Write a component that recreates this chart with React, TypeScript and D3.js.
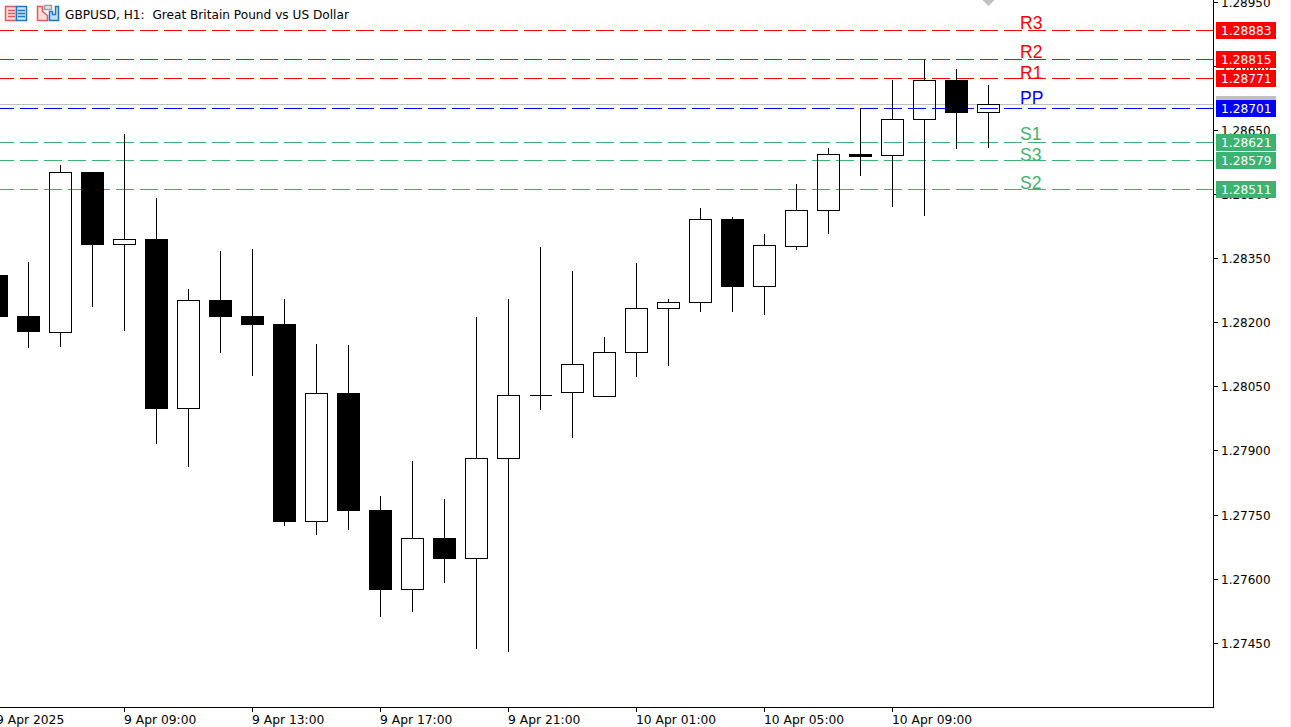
import React, { useEffect, useRef } from 'react';
import * as d3 from 'd3';

const WIDTH = 1291;
const HEIGHT = 727;

// GBPUSD H1 candles, oldest first (9 Apr 05:00 -> 10 Apr 12:00)
const opens = [1.28311, 1.28215, 1.28177, 1.28552, 1.28383, 1.28395, 1.27999, 1.28252, 1.28215, 1.28196, 1.27734, 1.28035, 1.27761, 1.27575, 1.27696, 1.27649, 1.27883, 1.2803, 1.28037, 1.28028, 1.28131, 1.28234, 1.28248, 1.28442, 1.28285, 1.28378, 1.28463, 1.28594, 1.28591, 1.28676, 1.28767, 1.28692];
const highs = [1.2834, 1.28342, 1.28569, 1.28552, 1.28641, 1.28492, 1.28279, 1.28368, 1.28372, 1.28255, 1.2815, 1.28148, 1.27795, 1.27876, 1.27788, 1.28213, 1.28255, 1.28377, 1.28321, 1.28166, 1.2834, 1.28255, 1.28468, 1.28447, 1.28407, 1.28524, 1.28609, 1.28701, 1.28768, 1.28814, 1.28793, 1.28756];
const lows = [1.2819, 1.28141, 1.28144, 1.28237, 1.28181, 1.27916, 1.27863, 1.2813, 1.28076, 1.27725, 1.27704, 1.27715, 1.27512, 1.27524, 1.27592, 1.27437, 1.2743, 1.27996, 1.27931, 1.28028, 1.28074, 1.28099, 1.28225, 1.28225, 1.28219, 1.2837, 1.28407, 1.28544, 1.28471, 1.2845, 1.28605, 1.28609];
const closes = [1.28213, 1.28177, 1.28552, 1.28382, 1.28395, 1.27998, 1.28252, 1.28214, 1.28195, 1.27734, 1.28035, 1.27759, 1.27575, 1.27696, 1.27648, 1.27883, 1.2803, 1.2803, 1.28103, 1.28131, 1.28234, 1.28248, 1.28442, 1.28284, 1.28381, 1.28463, 1.28594, 1.28588, 1.28676, 1.28767, 1.28691, 1.28711];

const priceTicks = [1.2745, 1.276, 1.2775, 1.279, 1.2805, 1.282, 1.2835, 1.285, 1.2865, 1.288, 1.2895];
const timeTickIdx = [0, 4, 8, 12, 16, 20, 24, 28];
const timeTickLabels = ['9 Apr 2025', '9 Apr 09:00', '9 Apr 13:00', '9 Apr 17:00', '9 Apr 21:00', '10 Apr 01:00', '10 Apr 05:00', '10 Apr 09:00'];

// pivot levels
const levelNames = ['R3', 'R2', 'R1', 'PP', 'S1', 'S3', 'S2'];
const levelPrices = [1.28883, 1.28815, 1.28771, 1.28701, 1.28621, 1.28579, 1.28511];
const levelLabelPrices = [1.28888, 1.2882, 1.28771, 1.28711, 1.28628, 1.28579, 1.28513];
const levelColors = ['#ff0000', '#ff0000', '#ff0000', '#0000ff', '#3cb371', '#3cb371', '#3cb371'];

const bidPrice = 1.28711;
const title = 'GBPUSD, H1:  Great Britain Pound vs US Dollar';
const FONT = '"DejaVu Sans", sans-serif';

const App: React.FC = () => {
  const chartRef = useRef<SVGSVGElement>(null);

  useEffect(() => {
    if (!chartRef.current) return;

    const plotRight = 1213;
    const plotBottom = 707;

    d3.select(chartRef.current).selectAll('*').remove();

    const svg = d3.select(chartRef.current)
      .attr('width', WIDTH)
      .attr('height', HEIGHT)
      .style('position', 'absolute')
      .style('left', 0)
      .style('top', 0)
      .style('background', '#ffffff')
      .attr('shape-rendering', 'crispEdges');

    const xScale = d3.scaleLinear().domain([0, 31]).range([-4, 988]);
    const yScale = d3.scaleLinear().domain([1.2745, 1.2895]).range([643.3, 2]);
    // snap to the pixel grid like the terminal does
    const px = (v: number) => Math.floor(v) + 0.5;

    const isBear = (i: number) => closes[i] < opens[i];
    const bodyTop = (i: number) => px(yScale(Math.max(opens[i], closes[i])));
    const bodyBottom = (i: number) => {
      const y = yScale(Math.min(opens[i], closes[i]));
      return Math.max(bodyTop(i), isBear(i) ? Math.round(y) - 0.5 : px(y));
    };

    svg.append('rect')
      .attr('x', WIDTH - 1).attr('y', 0).attr('width', 1).attr('height', HEIGHT)
      .attr('fill', '#f0f0f0');

    const plot = svg.append('g');

    // Bid line
    plot.append('line')
      .attr('x1', 0).attr('x2', plotRight)
      .attr('y1', px(yScale(bidPrice))).attr('y2', px(yScale(bidPrice)))
      .attr('stroke', '#c0c0c0');

    // Level lines
    plot.selectAll('.level')
      .data(levelPrices)
      .enter().append('line')
      .attr('class', 'level')
      .attr('x1', 0).attr('x2', plotRight)
      .attr('y1', d => px(yScale(d))).attr('y2', d => px(yScale(d)))
      .attr('stroke', (d, i) => levelColors[i])
      .attr('stroke-dasharray', '18 6')
      .attr('stroke-dashoffset', 4);

    // Wicks stop at the body so the level lines still show through bull candles
    const candles = d3.range(opens.length);
    plot.selectAll('.wick-up')
      .data(candles)
      .enter().append('line')
      .attr('class', 'wick-up')
      .attr('x1', i => xScale(i) + 0.5).attr('x2', i => xScale(i) + 0.5)
      .attr('y1', i => Math.round(yScale(highs[i])))
      .attr('y2', i => bodyTop(i))
      .attr('stroke', '#000000');
    plot.selectAll('.wick-down')
      .data(candles)
      .enter().append('line')
      .attr('class', 'wick-down')
      .attr('x1', i => xScale(i) + 0.5).attr('x2', i => xScale(i) + 0.5)
      .attr('y1', i => bodyBottom(i))
      .attr('y2', i => Math.round(yScale(lows[i])))
      .attr('stroke', '#000000');

    // Bodies: bull candles are see-through, bear candles solid
    // drawn as paths so a flat doji still shows up
    plot.selectAll('.body')
      .data(candles)
      .enter().append('path')
      .attr('class', 'body')
      .attr('d', i => {
        const left = xScale(i) - 10.5;
        return `M${left} ${bodyTop(i)}H${left + 22}V${bodyBottom(i)}H${left}Z`;
      })
      .attr('fill', i => (isBear(i) ? '#000000' : 'none'))
      .attr('stroke', '#000000');

    // Level names
    svg.selectAll('.level-name')
      .data(levelNames)
      .enter().append('text')
      .attr('x', 1020)
      .attr('y', (d, i) => yScale(levelLabelPrices[i]))
      .attr('fill', (d, i) => levelColors[i])
      .attr('font-family', '"Liberation Sans", Arial, sans-serif')
      .attr('font-size', 17.5)
      .text(d => d);

    // Axis frame
    svg.append('line')
      .attr('x1', plotRight + 0.5).attr('x2', plotRight + 0.5)
      .attr('y1', 0).attr('y2', plotBottom + 1)
      .attr('stroke', '#000000');
    svg.append('line')
      .attr('x1', 0).attr('x2', plotRight + 1)
      .attr('y1', plotBottom + 0.5).attr('y2', plotBottom + 0.5)
      .attr('stroke', '#000000');

    // Price axis
    svg.selectAll('.y-tick')
      .data(priceTicks)
      .enter().append('line')
      .attr('class', 'y-tick')
      .attr('x1', plotRight + 1).attr('x2', plotRight + 5)
      .attr('y1', d => px(yScale(d))).attr('y2', d => px(yScale(d)))
      .attr('stroke', '#000000');
    svg.selectAll('.y-label')
      .data(priceTicks)
      .enter().append('text')
      .attr('x', 1221)
      .attr('y', d => yScale(d))
      .attr('dy', '0.38em')
      .attr('font-family', FONT)
      .attr('font-size', 12)
      .attr('fill', '#000000')
      .text(d => d.toFixed(5));

    // Time axis
    svg.selectAll('.x-tick')
      .data(timeTickIdx)
      .enter().append('line')
      .attr('class', 'x-tick')
      .attr('x1', d => xScale(d) + 0.5).attr('x2', d => xScale(d) + 0.5)
      .attr('y1', plotBottom + 1).attr('y2', plotBottom + 5)
      .attr('stroke', '#000000');
    svg.selectAll('.x-label')
      .data(timeTickIdx)
      .enter().append('text')
      .attr('x', d => xScale(d))
      .attr('y', 724)
      .attr('font-family', FONT)
      .attr('font-size', 12.3)
      .attr('fill', '#000000')
      .text((d, i) => timeTickLabels[i]);

    // Price tags
    const tagPrices = [bidPrice, ...levelPrices];
    const tagColors = ['#c0c0c0', ...levelColors];
    svg.selectAll('.tag')
      .data(tagPrices)
      .enter().append('rect')
      .attr('class', 'tag')
      .attr('x', 1216).attr('width', 60).attr('height', 17)
      .attr('y', d => Math.floor(yScale(d)) - 8)
      .attr('fill', (d, i) => tagColors[i]);
    svg.selectAll('.tag-text')
      .data(levelPrices)
      .enter().append('text')
      .attr('class', 'tag-text')
      .attr('x', 1221)
      .attr('y', d => Math.floor(yScale(d)) + 0.5)
      .attr('dy', '0.38em')
      .attr('font-family', FONT)
      .attr('font-size', 12.2)
      .attr('fill', '#ffffff')
      .text(d => d.toFixed(5));

    // Grey marker above the last candle
    const mx = xScale(opens.length - 1) + 0.5;
    svg.append('path')
      .attr('d', d3.line()([[mx - 6, 0], [mx + 6, 0], [mx, 6]]) + 'Z')
      .attr('fill', '#c0c0c0')
      .attr('shape-rendering', 'auto');

    // Title icons
    const icons = svg.append('g').attr('shape-rendering', 'auto').attr('stroke-width', 1.5);
    icons.append('rect').attr('x', 5.5).attr('y', 6.5).attr('width', 11).attr('height', 14).attr('fill', '#fde0dc').attr('stroke', '#e05a5a');
    icons.append('rect').attr('x', 16.5).attr('y', 6.5).attr('width', 10).attr('height', 14).attr('fill', '#cfe6f8').attr('stroke', '#1f75b8');
    [10, 13, 16].forEach(y => {
      icons.append('line').attr('x1', 8).attr('x2', 15).attr('y1', y + 0.5).attr('y2', y + 0.5).attr('stroke', '#e05a5a');
      icons.append('line').attr('x1', 18).attr('x2', 25).attr('y1', y + 0.5).attr('y2', y + 0.5).attr('stroke', '#1f75b8');
    });
    icons.append('path').attr('d', 'M37.5 6.5H42.5V11.5L47.5 15.5V20.5H37.5Z').attr('fill', '#fddcd6').attr('stroke', '#e05a5a');
    icons.append('path').attr('d', 'M49.5 20.5V11.5H52.5V14.5H55.5V6.5H58.5V20.5Z').attr('fill', '#bfe0f8').attr('stroke', '#1f75b8');
    icons.append('rect').attr('x', 44.5).attr('y', 5.5).attr('width', 7).attr('height', 4).attr('fill', '#e8e8e8').attr('stroke', '#a0a0a0');

    svg.append('text')
      .attr('x', 65)
      .attr('y', 18.5)
      .attr('font-family', FONT)
      .attr('font-size', 12.15)
      .attr('fill', '#000000')
      .style('white-space', 'pre')
      .text(title);
  }, []);

  return <svg ref={chartRef}></svg>;
};

export default App;
